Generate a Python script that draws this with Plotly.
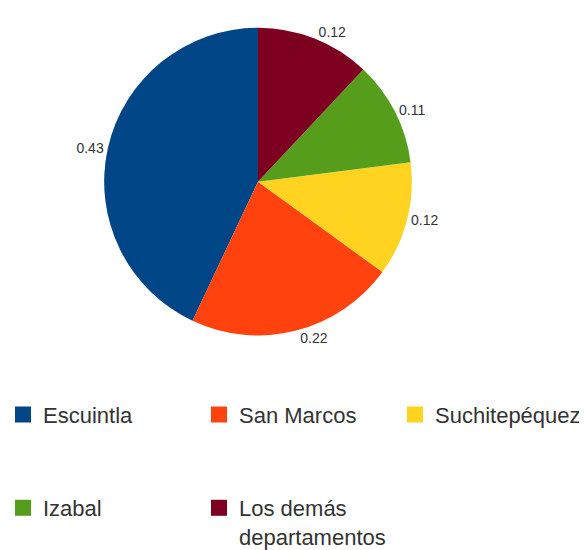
import plotly.graph_objects as go

# departamentos and their shares
labels = ["Escuintla", "San Marcos", "Suchitepéquez", "Izabal", "Los demás departamentos"]
legend_names = ["Escuintla", "San Marcos", "Suchitepéquez", "Izabal", "Los demás<br>departamentos"]
values = [0.43, 0.22, 0.12, 0.11, 0.12]
colors = ["#004586", "#ff420e", "#ffd320", "#579d1c", "#7e0021"]
legend_rows = ["legend", "legend", "legend", "legend2", "legend2"]

W, H = 587, 550

# first slice starts at 12 o'clock and slices run counterclockwise
pie = go.Pie(labels=labels, values=values, sort=False,
             direction="counterclockwise", rotation=-360 * values[0] / sum(values),
             marker=dict(colors=colors, line=dict(width=0)),
             textinfo="value", textposition="outside",
             textfont=dict(family="Liberation Sans", size=14, color="#333333"),
             domain=dict(x=[87 / W, 413 / W], y=[1 - 347 / H, 1 - 21 / H]),
             showlegend=False, hoverinfo="label+value")

fig = go.Figure(data=[pie])

# legend entries (two rows, like the original)
for name, col, lg in zip(legend_names, colors, legend_rows):
    fig.add_trace(go.Scatter(x=[None], y=[None], mode="markers", name=name,
                             marker=dict(symbol="square", size=16, color=col),
                             legend=lg, hoverinfo="skip"))

leg_font = dict(family="Liberation Sans", size=22, color="#333333")
fig.update_layout(
    width=W, height=H,
    margin={"r": 0, "t": 0, "l": 0, "b": 0},
    paper_bgcolor="white", plot_bgcolor="white",
    xaxis=dict(visible=False), yaxis=dict(visible=False),
    legend=dict(orientation="h", x=0, xanchor="left", y=1 - 431 / H, yanchor="middle",
                entrywidth=156, entrywidthmode="pixels", font=leg_font, indentation=-5,
                valign="top", bgcolor="rgba(0,0,0,0)"),
    legend2=dict(orientation="h", x=0, xanchor="left", y=1 - 508 / H, yanchor="top",
                 entrywidth=156, entrywidthmode="pixels", font=leg_font, indentation=-5,
                 valign="top", bgcolor="rgba(0,0,0,0)"),
)

fig.write_html("out.html")
